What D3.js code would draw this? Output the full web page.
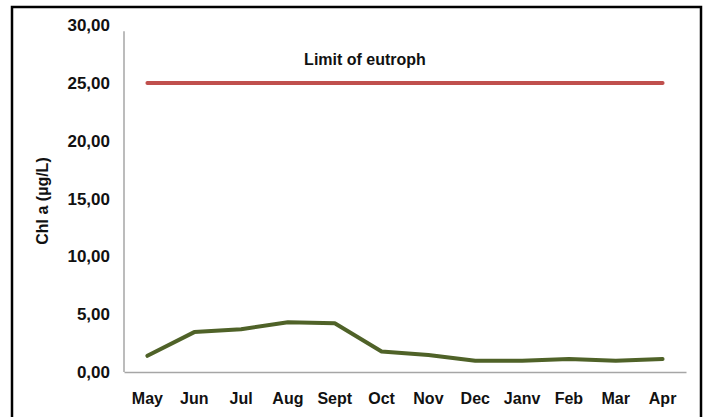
<!DOCTYPE html>
<html><head><meta charset="utf-8">
<script src="https://cdn.jsdelivr.net/npm/d3@7"></script>
<style>
html,body{margin:0;padding:0;background:#fff;}
svg{display:block;}
text{font-family:"Liberation Sans Narrow","Arial Narrow","Liberation Sans",sans-serif;font-weight:bold;fill:#111;}
</style></head>
<body><svg id="c" width="707" height="417"></svg>
<script>
const months = ["May","Jun","Jul","Aug","Sept","Oct","Nov","Dec","Janv","Feb","Mar","Apr"];
const chlValues = [1.40, 3.45, 3.70, 4.30, 4.22, 1.78, 1.48, 0.98, 0.98, 1.12, 0.98, 1.12];
const limitValue = 25;
const limitLabel = "Limit of eutroph";
const yTicks = [0, 5, 10, 15, 20, 25, 30];
const yTitle = "Chl a (µg/L)";

const svg = d3.select("#c");
// frame
svg.append("rect").attr("x",12).attr("y",7).attr("width",689).attr("height",420)
  .attr("fill","#fff").attr("stroke","#000").attr("stroke-width",2.5);

const x0 = 124, x1 = 686, yTop = 25.2, yBot = 372;
const x = d3.scaleBand().domain(months).range([x0, x1]);
const y = d3.scaleLinear().domain([0, 30]).range([yBot, yTop]);
const fmt = v => d3.format(".2f")(v).replace(".", ",");
const FF = '"Liberation Sans Narrow","Arial Narrow","Liberation Sans",sans-serif';

// y axis
const ya = svg.append("g").attr("transform",`translate(${x0},0)`)
  .call(d3.axisLeft(y).tickValues(yTicks).tickSize(0).tickPadding(14).tickFormat(fmt));
ya.select(".domain").attr("stroke","#a6a6a6").attr("stroke-width",1.5).attr("d",`M0,${y(30)+6}V${yBot}`);
ya.selectAll("text").attr("font-size",17).attr("fill","#111")
  .style("font-family",FF).style("font-weight","bold");

// x axis
const xa = svg.append("g").attr("transform",`translate(0,${yBot})`)
  .call(d3.axisBottom(x).tickSize(0).tickPadding(21));
xa.select(".domain").attr("stroke","#a6a6a6").attr("stroke-width",1.5);
xa.selectAll("text").attr("font-size",16).attr("fill","#111")
  .style("font-family",FF).style("font-weight","bold");

const cx = d => x(d) + x.bandwidth()/2;

// limit line
svg.append("path")
  .attr("d", d3.line()([[cx(months[0]), y(limitValue)], [cx(months[months.length-1]), y(limitValue)]]))
  .attr("stroke","#c0504d").attr("stroke-width",4).attr("stroke-linecap","round").attr("fill","none");
svg.append("text").attr("x",365).attr("y",y(limitValue)-18).attr("text-anchor","middle")
  .attr("font-size",16).text(limitLabel);

// data line
svg.append("path")
  .datum(chlValues)
  .attr("d", d3.line().x((d,i)=>cx(months[i])).y(d=>y(d)))
  .attr("stroke","#4f6228").attr("stroke-width",4).attr("stroke-linecap","round")
  .attr("stroke-linejoin","round").attr("fill","none");

// y title
svg.append("text").attr("transform","translate(48,201) rotate(-90)")
  .attr("text-anchor","middle").attr("font-size",16).text(yTitle);
</script></body></html>
